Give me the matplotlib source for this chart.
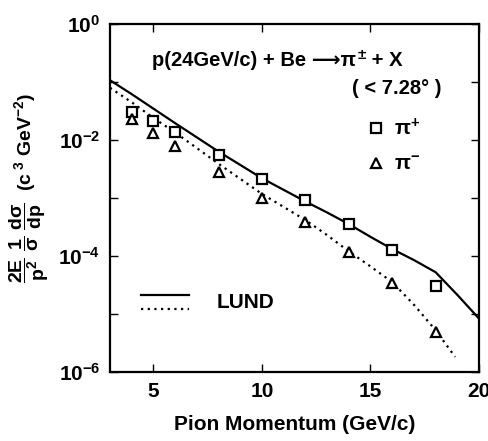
import matplotlib.pyplot as plt
import numpy as np
from matplotlib.ticker import NullLocator, FixedLocator

plt.rcParams['font.family'] = ['Liberation Sans', 'DejaVu Sans']
plt.rcParams['font.weight'] = 'bold'
plt.rcParams['mathtext.fontset'] = 'custom'
plt.rcParams['mathtext.rm'] = 'Liberation Sans:bold'
plt.rcParams['mathtext.it'] = 'Liberation Sans:bold'
plt.rcParams['mathtext.bf'] = 'Liberation Sans:bold'

# measured points
p_data = [4, 5, 6, 8, 10, 12, 14, 16, 18]
pip = [0.030, 0.021, 0.0135, 0.0055, 0.0021, 9.3e-4, 3.5e-4, 1.27e-4, 3.0e-5]
pim = [0.023, 0.0134, 0.0080, 0.0028, 1.0e-3, 3.9e-4, 1.15e-4, 3.4e-5, 4.8e-6]

# LUND curves (log10 values)
p_lund_pos = [3, 4, 5, 6, 8, 10, 12, 13, 14, 15, 16, 17, 18, 19, 20]
lund_pos = [-0.97, -1.21, -1.46, -1.71, -2.20, -2.66, -3.06, -3.25, -3.45, -3.67, -3.88,
            -4.07, -4.28, -4.67, -5.08]
p_lund_neg = [3, 4, 5, 6, 8, 10, 12, 13, 14, 15, 16, 17, 18, 18.9]
lund_neg = [-1.10, -1.35, -1.62, -1.87, -2.41, -2.93, -3.38, -3.64, -3.92, -4.18, -4.45,
            -4.84, -5.28, -5.74]

fig = plt.figure(figsize=(4.89, 4.41), dpi=100)
ax = fig.add_axes([0.225, 0.1565, 0.7546, 0.7891])

ax.plot(p_lund_pos, 10 ** np.array(lund_pos), color='black', lw=1.6)
ax.plot(p_lund_neg, 10 ** np.array(lund_neg), color='black', lw=1.6, ls=(0, (1, 2)))
ax.plot(p_data, pip, ls='none', marker='s', ms=7, mfc='white', mec='black', mew=1.6)
ax.plot(p_data, pim, ls='none', marker='^', ms=6.5, mfc='white', mec='black', mew=1.6)

ax.set_yscale('log')
ax.set_xlim(3, 20)
ax.set_ylim(1e-6, 1)
ax.set_xticks([5, 10, 15, 20])
ax.yaxis.set_major_locator(FixedLocator([10.0 ** k for k in range(-6, 1)]))
ax.yaxis.set_minor_locator(NullLocator())
ax.set_yticklabels([r'$10^{-6}$', '', r'$10^{-4}$', '', r'$10^{-2}$', '', r'$10^{0}$'])
ax.tick_params(direction='in', length=6, width=1, top=True, right=True, labelsize=15, pad=7)
for s in ax.spines.values():
    s.set_linewidth(1.6)

ax.set_xlabel('Pion Momentum (GeV/c)', fontsize=15, fontweight='bold', labelpad=10)
ax.set_ylabel(r'$\dfrac{2E}{p^2}\ \dfrac{1}{\sigma}\ \dfrac{d\sigma}{dp}$  (c$^{\ 3}$ GeV$^{-2}$)',
              fontsize=14, fontweight='bold')
ax.yaxis.set_label_coords(-0.16, 0.53)

# reaction text
t1 = ax.text(0.115, 0.895, 'p(24GeV/c) + Be \u27f6\u03c0', transform=ax.transAxes,
             fontsize=14.5, fontweight='bold', va='center')
t2 = ax.annotate('\u00b1', xy=(1, 1), xycoords=t1, xytext=(1, 2), textcoords='offset points',
                 fontsize=11, fontweight='bold', va='top', ha='left')
ax.annotate(' + X', xy=(1, 0), xycoords=(t2, t1), fontsize=14.5, fontweight='bold',
            va='bottom', ha='left')
ax.text(0.655, 0.815, '( < 7.28\u00b0 )', transform=ax.transAxes,
        fontsize=14.5, fontweight='bold', va='center')

# legends
ax.plot([0.72], [0.7], transform=ax.transAxes, marker='s', ms=7, mfc='white', mec='black', mew=1.6)
ax.text(0.77, 0.7, r'$\pi^{+}$', transform=ax.transAxes, fontsize=15, va='center')
ax.plot([0.72], [0.6], transform=ax.transAxes, marker='^', ms=6.5, mfc='white', mec='black', mew=1.6)
ax.text(0.77, 0.6, r'$\pi^{-}$', transform=ax.transAxes, fontsize=15, va='center')

ax.plot([0.085, 0.215], [0.22, 0.22], transform=ax.transAxes, color='black', lw=1.6)
ax.plot([0.085, 0.215], [0.18, 0.18], transform=ax.transAxes, color='black', lw=1.6, ls=(0, (1, 2)))
ax.text(0.29, 0.20, 'LUND', transform=ax.transAxes, fontsize=15, fontweight='bold', va='center')

fig.savefig('out.png', dpi=100)
